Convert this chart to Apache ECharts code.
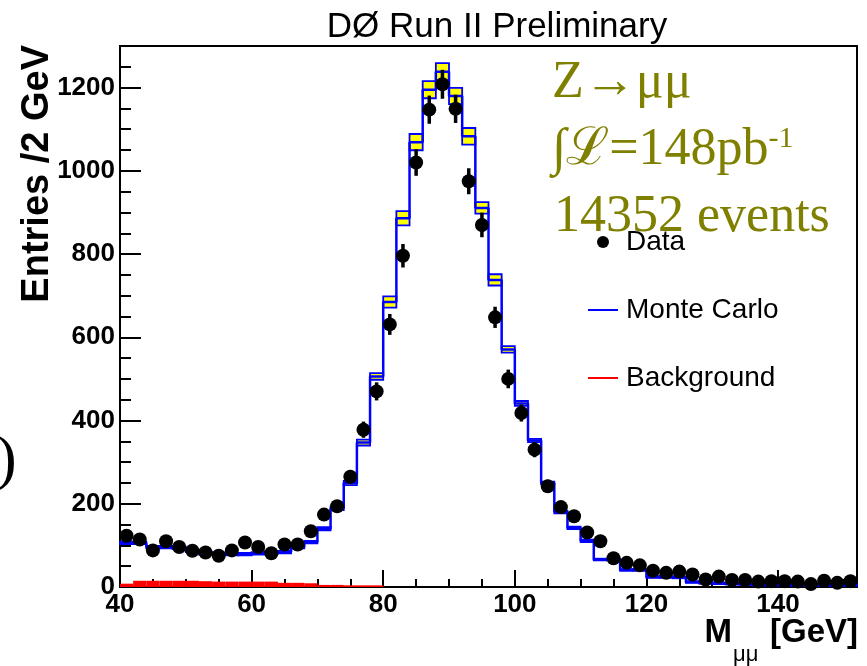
<!DOCTYPE html>
<html>
<head>
<meta charset="utf-8">
<script src="https://cdn.jsdelivr.net/npm/echarts@6/dist/echarts.min.js"></script>
<style>html,body{margin:0;padding:0;background:#fff}#c{width:867px;height:666px}</style>
</head>
<body>
<div id="c"></div>
<script>
// ---- data ----
const binLow = [40,42,44,46,48,50,52,54,56,58,60,62,64,66,68,70,72,74,76,78,80,82,84,86,88,90,92,94,96,98,100,102,104,106,108,110,112,114,116,118,120,122,124,126,128,130,132,134,136,138,140,142,144,146,148,150];
const dataCounts = [123,114,88,110,96,87,83,75,88,107,96,81,102,102,134,174,194,265,378,470,631,796,1020,1147,1208,1149,975,870,648,500,418,330,242,192,170,131,110,69,58,52,39,34,37,30,18,25,17,17,13,14,14,13,7,15,10,14];
const mcValues = [106,106,96,96,94,87,81,80,79,79,81,83,84,96,108,140,189,250,347,506,685,886,1069,1195,1238,1180,1083,911,738,571,441,352,250,180,142,111,66,66,41,41,24,24,23,12,10,9,8,7,6,6,6,5,5,5,5,5];
const mcErrors = [3,3,3,3,3,3,3,3,3,3,3,3,3,3,3,4,4,5,7,8,13.5,17,19.5,20.5,21,19.5,20,14,13.5,8,6,4,3,3,3,3,2,2,2,2,2,2,2,2,2,2,2,2,2,2,2,2,2,2,2,2];
const bgValues = [8,15,15,15,15,15,14,13,13,13,13,13,10,10,9,5,5,4,4,4,0,0,0,0,0,0,0,0,0,0,0,0,0,0,0,0,0,0,0,0,0,0,0,0,0,0,0,0,0,0,0,0,0,0,0,0];
const xTicks = [40,60,80,100,120,140];
const yTicks = [0,200,400,600,800,1000,1200];
const xRange = [40,152];
const yRange = [0,1300];
const xMinorStep = 5, yMinorStep = 50;

const binW = binLow[1] - binLow[0];

function hasFont(name){
  const ctx = document.createElement('canvas').getContext('2d');
  const s = 'abcdefghijklmnopqrstuvwxyz0123456789ABCDEFGHIJ';
  ctx.font = '40px monospace'; const a = ctx.measureText(s).width;
  ctx.font = '40px "' + name + '", monospace'; const b = ctx.measureText(s).width;
  return Math.abs(a - b) > 0.5;
}
const SANS = '"Liberation Sans", Arial, Helvetica, sans-serif';
const NARROW_OK = hasFont('Liberation Sans Narrow');
const TICKFONT = NARROW_OK ? '"Liberation Sans Narrow", ' + SANS : SANS;
const TICKSIZE = NARROW_OK ? 28 : 26;
const SERIF = '"Liberation Serif", "Times New Roman", "DejaVu Serif", serif';
const OLIVE = '#808000';

const chart = echarts.init(document.getElementById('c'), null, {renderer:'canvas'});

const commonX = {type:'value', min:xRange[0], max:xRange[1], gridIndex:0, splitLine:{show:false}, axisLine:{onZero:false}};
const commonY = {type:'value', min:yRange[0], max:yRange[1], gridIndex:0, splitLine:{show:false}, axisLine:{onZero:false}};

const option = {
  animation:false,
  backgroundColor:'#fff',
  title:{
    text:'D\u00D8 Run II Preliminary',
    left:492, top:5, textAlign:'center',
    textStyle:{fontFamily:SANS, fontSize:35, fontWeight:'normal', color:'#000'}
  },
  grid:{left:120, top:46, width:737, height:541, show:true, borderColor:'#000', borderWidth:2, backgroundColor:'#fff'},
  xAxis:[
    Object.assign({}, commonX, {
      position:'bottom', interval:xTicks[1]-xTicks[0],
      axisLine:{show:true, onZero:false, lineStyle:{color:'#000', width:2}},
      axisTick:{show:true, inside:true, length:17, lineStyle:{color:'#000', width:2}},
      axisLabel:{show:true, margin:5, showMaxLabel:false, color:'#000', fontFamily:TICKFONT, fontWeight:'bold', fontSize:TICKSIZE,
        formatter:v => xTicks.indexOf(v) >= 0 ? String(v) : ''}
    }),
    Object.assign({}, commonX, {
      position:'bottom', interval:xMinorStep,
      axisLine:{show:false, onZero:false},
      axisTick:{show:true, inside:true, length:8, lineStyle:{color:'#000', width:2}},
      axisLabel:{show:false}
    })
  ],
  yAxis:[
    Object.assign({}, commonY, {
      position:'left', interval:yTicks[1]-yTicks[0],
      axisLine:{show:true, onZero:false, lineStyle:{color:'#000', width:2}},
      axisTick:{show:true, inside:true, length:21, lineStyle:{color:'#000', width:2}},
      axisLabel:{show:true, margin:5, showMaxLabel:false, color:'#000', fontFamily:TICKFONT, fontWeight:'bold', fontSize:TICKSIZE,
        formatter:v => yTicks.indexOf(v) >= 0 ? String(v) : ''}
    }),
    Object.assign({}, commonY, {
      position:'left', interval:yMinorStep,
      axisLine:{show:false, onZero:false},
      axisTick:{show:true, inside:true, length:11, lineStyle:{color:'#000', width:2}},
      axisLabel:{show:false}
    })
  ],
  legend:{
    orient:'vertical', left:588, top:228, padding:0, itemWidth:30, itemHeight:12, itemGap:40,
    selectedMode:false,
    textStyle:{fontFamily:SANS, fontSize:28, color:'#000', padding:[0,0,0,3]},
    data:[
      {name:'Data', icon:'circle'},
      {name:'Monte Carlo', icon:'path://M0 0H30V2H0Z'},
      {name:'Background', icon:'path://M0 0H30V2H0Z'}
    ]
  },
  series:[
    {
      name:'Background', type:'custom', z:2,
      itemStyle:{color:'#ff0000'},
      encode:{x:0, y:1},
      data: binLow.map((x,i) => [x, bgValues[i]]),
      renderItem:(params, api) => {
        const x0 = api.value(0), v = api.value(1);
        if (!v) return null;
        const a = api.coord([x0, 0]), b = api.coord([x0 + binW, v]);
        return {type:'rect', shape:{x:a[0], y:b[1], width:b[0]-a[0], height:a[1]-b[1]}, style:{fill:'#ff0000'}};
      }
    },
    {
      name:'MC band', type:'custom', z:3,
      encode:{x:0, y:1},
      data: binLow.map((x,i) => [x, mcValues[i], mcErrors[i]]),
      renderItem:(params, api) => {
        const x0 = api.value(0), v = api.value(1), e = api.value(2);
        const a = api.coord([x0, v - e]), b = api.coord([x0 + binW, v + e]);
        return {type:'rect', shape:{x:a[0], y:b[1], width:b[0]-a[0], height:a[1]-b[1]},
          style:{fill:'#ffff00', stroke:'#0000ff', lineWidth:1.8}};
      }
    },
    {
      name:'Monte Carlo', type:'line', step:'end', z:4,
      showSymbol:false, symbol:'none',
      itemStyle:{color:'#0000ff'},
      lineStyle:{color:'#0000ff', width:2.5},
      data: binLow.map((x,i) => [x, mcValues[i]]).concat([[binLow[binLow.length-1] + binW, mcValues[mcValues.length-1]]])
    },
    {
      name:'Data errors', type:'custom', z:5,
      encode:{x:0, y:1},
      data: binLow.map((x,i) => [x + binW/2, dataCounts[i]]),
      renderItem:(params, api) => {
        const xc = api.value(0), v = api.value(1), e = Math.sqrt(v);
        const a = api.coord([xc, v - e]), b = api.coord([xc, v + e]);
        return {type:'line', shape:{x1:a[0], y1:a[1], x2:b[0], y2:b[1]}, style:{stroke:'#000', lineWidth:3.5}};
      }
    },
    {
      name:'Data', type:'scatter', z:6,
      symbol:'circle', symbolSize:14,
      itemStyle:{color:'#000', opacity:1},
      data: binLow.map((x,i) => [x + binW/2, dataCounts[i]])
    }
  ],
  graphic:[
    {type:'text', x:38, y:45, rotation:Math.PI/2,
      style:{text:'Entries /2 GeV', fill:'#000', font:'bold 38px ' + SANS, align:'right', textAlign:'right', verticalAlign:'middle', textVerticalAlign:'middle'}},
    {type:'text', x:858, y:633,
      style:{text:'[GeV]', fill:'#000', font:'bold 33px ' + SANS, align:'right', textAlign:'right', verticalAlign:'middle', textVerticalAlign:'middle'}},
    {type:'text', x:733, y:655,
      style:{text:'\u03BC\u03BC', fill:'#000', font:'22px ' + SANS, align:'left', textAlign:'left', verticalAlign:'middle', textVerticalAlign:'middle'}},
    {type:'text', x:732, y:633,
      style:{text:'M', fill:'#000', font:'bold 33px ' + SANS, align:'right', textAlign:'right', verticalAlign:'middle', textVerticalAlign:'middle'}},
    {type:'text', x:552, y:83,
      style:{text:'Z\u2192\u03BC\u03BC', fill:OLIVE, font:'52px ' + SERIF, align:'left', textAlign:'left', verticalAlign:'middle', textVerticalAlign:'middle'}},
    {type:'text', x:552, y:150,
      style:{text:'{m|\u222B\u2112=148pb}{s|-1}', fill:OLIVE, align:'left', textAlign:'left', verticalAlign:'middle', textVerticalAlign:'middle',
        rich:{m:{fontFamily:SERIF, fontSize:52, fill:OLIVE, color:OLIVE}, s:{fontFamily:SERIF, fontSize:30, fill:OLIVE, color:OLIVE, verticalAlign:'top'}}}},
    {type:'text', x:554, y:217,
      style:{text:'14352 events', fill:OLIVE, font:'52px ' + SERIF, align:'left', textAlign:'left', verticalAlign:'middle', textVerticalAlign:'middle'}},
    {type:'text', x:-4, y:462,
      style:{text:')', fill:'#000', font:'62px ' + SERIF, align:'left', textAlign:'left', verticalAlign:'middle', textVerticalAlign:'middle'}}
  ]
};
chart.setOption(option);
</script>
</body>
</html>
